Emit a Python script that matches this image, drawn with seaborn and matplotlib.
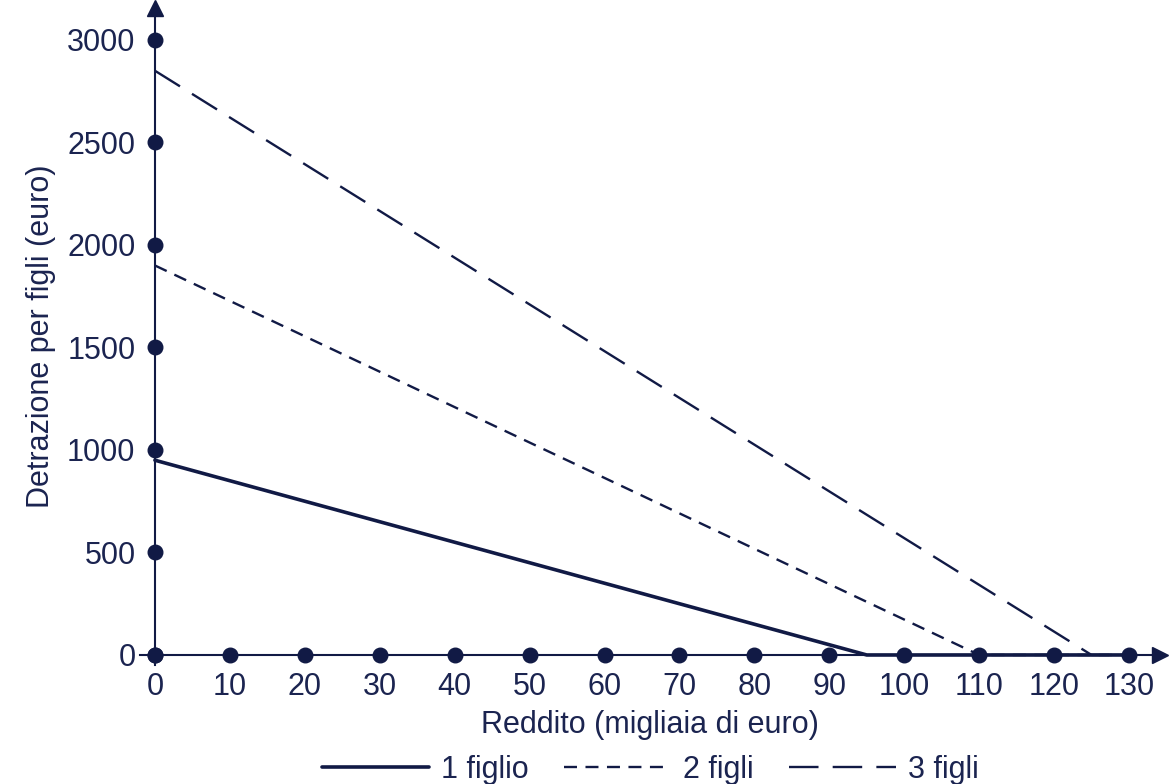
import pandas as pd
import matplotlib
matplotlib.use("Agg")
import matplotlib.pyplot as plt
import seaborn as sns

# income (thousands of euro) vs deduction (euro)
reddito_1 = [0, 95, 130]
detrazione_1 = [950, 0, 0]
reddito_2 = [0, 110, 130]
detrazione_2 = [1900, 0, 0]
reddito_3 = [0, 125, 130]
detrazione_3 = [2850, 0, 0]

x_ticks = [0, 10, 20, 30, 40, 50, 60, 70, 80, 90, 100, 110, 120, 130]
y_ticks = [0, 500, 1000, 1500, 2000, 2500, 3000]

NAVY = "#111a45"
TEXT = "#1b2450"

sns.set_theme(style="white")
plt.rcParams['font.family'] = ['Liberation Sans', 'DejaVu Sans']

fig = plt.figure(figsize=(11.76, 7.84), dpi=100)
ax = fig.add_axes([0.119, 0.1515, 0.8678, 0.8383])

sns.lineplot(x=reddito_1, y=detrazione_1, ax=ax, color=NAVY, lw=2.6,
             label="1 figlio", clip_on=False)
sns.lineplot(x=reddito_2, y=detrazione_2, ax=ax, color=NAVY, lw=1.7,
             linestyle=(0, (5.5, 3.6)), label="2 figli", clip_on=False)
sns.lineplot(x=reddito_3, y=detrazione_3, ax=ax, color=NAVY, lw=1.7,
             linestyle=(0, (12.5, 6)), label="3 figli", clip_on=False)

ax.set_xlim(-2, 134.2)
ax.set_ylim(-50, 3156)

for s in ["top", "right"]:
    ax.spines[s].set_visible(False)
for s in ["left", "bottom"]:
    ax.spines[s].set_color(NAVY)
    ax.spines[s].set_linewidth(1.5)
    ax.spines[s].set_position(("data", 0))

# arrows on the axes
ax.plot(1, 0, ">", color=NAVY, ms=11, transform=ax.get_yaxis_transform(), clip_on=False)
ax.plot(0, 1, "^", color=NAVY, ms=11, transform=ax.get_xaxis_transform(), clip_on=False)

# dots at ticks
ax.scatter(x_ticks, [0] * len(x_ticks), s=110, color=NAVY, zorder=5, clip_on=False)
ax.scatter([0] * len(y_ticks), y_ticks, s=110, color=NAVY, zorder=5, clip_on=False)

ax.set_xticks(x_ticks)
ax.set_yticks(y_ticks)
ax.tick_params(axis="both", length=0, labelsize=22, colors=TEXT)
ax.tick_params(axis="x", pad=12)
ax.tick_params(axis="y", pad=14)

ax.set_xlabel("Reddito (migliaia di euro)", fontsize=22, color=TEXT, labelpad=6)
ax.set_ylabel("Detrazione per figli (euro)", fontsize=22, color=TEXT, labelpad=8)

ax.legend(loc="center", bbox_to_anchor=(0.5, -0.159), ncol=3, frameon=False,
          fontsize=22, handlelength=3.5, columnspacing=1.15, handletextpad=0.4,
          labelcolor=TEXT)

fig.savefig("out.png", dpi=100)
